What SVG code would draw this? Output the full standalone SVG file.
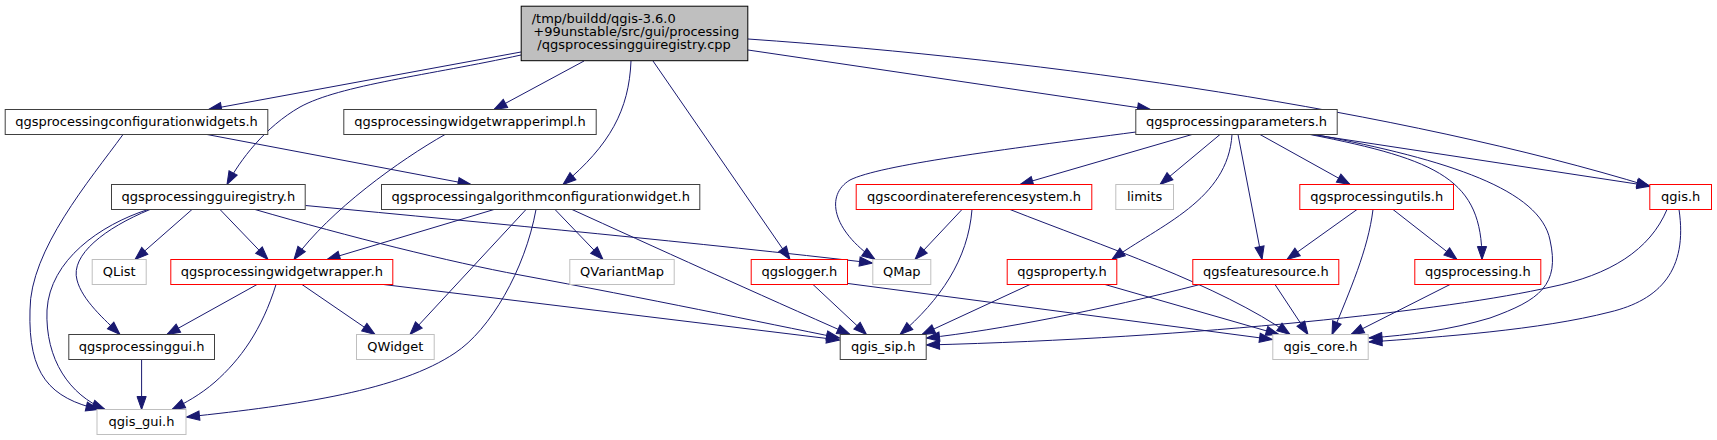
<svg xmlns="http://www.w3.org/2000/svg" width="1717" height="440" viewBox="0 0 1717 440">
<style>
text{font-family:"DejaVu Sans","Liberation Sans",sans-serif;font-size:13px;fill:#000;text-anchor:middle}
.nd rect{fill:#fff;stroke:#404040;stroke-width:1}
.rd rect{fill:#fff;stroke:#ff0000;stroke-width:1}
.gr rect{fill:#fff;stroke:#bfbfbf;stroke-width:1}
#edges path{fill:none;stroke:#191970;stroke-width:1;marker-end:url(#arr)}
</style>
<defs>
<marker id="arr" markerUnits="userSpaceOnUse" markerWidth="16" markerHeight="12" refX="13" refY="4.6" orient="auto" overflow="visible">
<path d="M0,0 L13,4.6 L0,9.2 Z" fill="#191970" stroke="#191970" stroke-width="1"/>
</marker>
</defs>
<rect x="0" y="0" width="1717" height="440" fill="#fff"/>
<g id="edges">
<path d="M521,52 L208.5,109.5"/>
<path d="M521,55 C430,75 340,85 300,107 C265,127 240,160 227,184.5"/>
<path d="M584,61 L494,109.5"/>
<path d="M631,61 C629,110 610,145 563,184.5"/>
<path d="M653,61 L790,259.5"/>
<path d="M748,50 L1150.5,109.5"/>
<path d="M748,39 C1050,60 1400,110 1650,186.5"/>
<path d="M207,134.5 L471,184.5"/>
<path d="M123,134.5 C90,180 30,250 30,310 C28,375 50,398 99,409.5"/>
<path d="M148,209.5 C100,225 50,260 47,310 C45,360 70,395 105,409.5"/>
<path d="M150,209.5 C105,228 70,255 77,280 C82,300 105,320 120,334.5"/>
<path d="M192,209.5 L135,259.5"/>
<path d="M220,209.5 L268,259.5"/>
<path d="M305.5,205.5 C500,224 700,243 872.5,263"/>
<path d="M255,209.5 C350,237 450,262 520,275 C650,299 760,322 839.5,338"/>
<path d="M494,209.5 L327,259.5"/>
<path d="M526,209.5 L410,334.5"/>
<path d="M536,209.5 C525,270 490,330 455,353 C400,390 300,405 186.5,417"/>
<path d="M555,209.5 L603,259.5"/>
<path d="M572,209.5 C650,245 760,295 850,334.5"/>
<path d="M257,284.5 L167,334.5"/>
<path d="M276,284.5 C262,330 240,360 215,382 C200,395 185,403 172,409.5"/>
<path d="M302,284.5 L375,334.5"/>
<path d="M383.5,284.5 L839.5,340"/>
<path d="M141.6,359.5 L141.6,409.5"/>
<path d="M445,134.5 C400,160 330,210 294,259.5"/>
<path d="M1136,132 C1000,150 880,165 850,180 C825,195 832,230 875,259.5"/>
<path d="M1192,134.5 L1020,184.5"/>
<path d="M1220,134.5 L1160,184.5"/>
<path d="M1232,134.5 C1228,200 1160,225 1112,259.5"/>
<path d="M1238,134.5 L1262,259.5"/>
<path d="M1260,134.5 L1350,184.5"/>
<path d="M1310,134.5 C1440,160 1482,180 1482,259.5"/>
<path d="M1315,134.5 C1450,160 1540,190 1550,240 C1560,285 1540,300 1490,318 C1450,330 1410,335 1369,338"/>
<path d="M1312,134.5 L1650,186"/>
<path d="M962,209.5 L915,259.5"/>
<path d="M972,209.5 C968,260 940,300 900,334.5"/>
<path d="M1010,209.5 C1100,245 1220,285 1290,334.5"/>
<path d="M1357,209.5 L1287,259.5"/>
<path d="M1373,209.5 C1368,250 1350,290 1332,334.5"/>
<path d="M1393,209.5 L1457,259.5"/>
<path d="M1667,209.5 C1650,250 1610,275 1551,287 C1450,310 1200,338 926.5,345"/>
<path d="M1679,209.5 C1688,270 1660,300 1610,312 C1540,330 1440,337 1369,342"/>
<path d="M813,284.5 L866.5,334.5"/>
<path d="M848,283.5 L1272.5,339.5"/>
<path d="M1030,284.5 L922,334.5"/>
<path d="M1105,284.5 L1279,334.5"/>
<path d="M1200,284.5 C1100,310 1000,330 926.5,338"/>
<path d="M1275,284.5 L1308,334.5"/>
<path d="M1450,284.5 L1351,334.5"/>
</g>
<g id="root">
<rect x="521.2" y="6.2" width="226.6" height="54.5" fill="#bfbfbf" stroke="#000" stroke-width="1"/>
<text x="531.7" y="22.7" style="text-anchor:start">/tmp/buildd/qgis-3.6.0</text>
<text x="533.3" y="36" style="text-anchor:start">+99unstable/src/gui/processing</text>
<text x="537.3" y="49.3" style="text-anchor:start">/qgsprocessingguiregistry.cpp</text>
</g>
<g id="n1" class="nd"><rect x="5.2" y="109.5" width="262.6" height="25"/><text x="136.5" y="125.5">qgsprocessingconfigurationwidgets.h</text></g>
<g id="n2" class="nd"><rect x="343.8" y="109.5" width="252.4" height="25"/><text x="470" y="125.5">qgsprocessingwidgetwrapperimpl.h</text></g>
<g id="n3" class="nd"><rect x="1135.8" y="109.5" width="201.4" height="25"/><text x="1236.5" y="125.5">qgsprocessingparameters.h</text></g>
<g id="n4" class="nd"><rect x="111.5" y="184.5" width="193.7" height="25"/><text x="208.35" y="200.5">qgsprocessingguiregistry.h</text></g>
<g id="n5" class="nd"><rect x="381.5" y="184.5" width="318.3" height="25"/><text x="540.65" y="200.5">qgsprocessingalgorithmconfigurationwidget.h</text></g>
<g id="n6" class="rd"><rect x="856.2" y="184.5" width="235.6" height="25"/><text x="974" y="200.5">qgscoordinatereferencesystem.h</text></g>
<g id="n7" class="gr"><rect x="1115.8" y="184.5" width="57.7" height="25"/><text x="1144.65" y="200.5">limits</text></g>
<g id="n8" class="rd"><rect x="1299.8" y="184.5" width="153.7" height="25"/><text x="1376.65" y="200.5">qgsprocessingutils.h</text></g>
<g id="n9" class="rd"><rect x="1649.8" y="184.5" width="61.7" height="25"/><text x="1680.65" y="200.5">qgis.h</text></g>
<g id="n10" class="gr"><rect x="92.2" y="259.5" width="54" height="25"/><text x="119.2" y="275.5">QList</text></g>
<g id="n11" class="rd"><rect x="170.8" y="259.5" width="222" height="25"/><text x="281.8" y="275.5">qgsprocessingwidgetwrapper.h</text></g>
<g id="n12" class="gr"><rect x="569.8" y="259.5" width="104.4" height="25"/><text x="622" y="275.5">QVariantMap</text></g>
<g id="n13" class="rd"><rect x="751.2" y="259.5" width="96.3" height="25"/><text x="799.35" y="275.5">qgslogger.h</text></g>
<g id="n14" class="gr"><rect x="872.8" y="259.5" width="58" height="25"/><text x="901.8" y="275.5">QMap</text></g>
<g id="n15" class="rd"><rect x="1007.2" y="259.5" width="109.6" height="25"/><text x="1062" y="275.5">qgsproperty.h</text></g>
<g id="n16" class="rd"><rect x="1192.8" y="259.5" width="146" height="25"/><text x="1265.8" y="275.5">qgsfeaturesource.h</text></g>
<g id="n17" class="rd"><rect x="1414.8" y="259.5" width="126" height="25"/><text x="1477.8" y="275.5">qgsprocessing.h</text></g>
<g id="n18" class="nd"><rect x="68.8" y="334.5" width="145.7" height="25"/><text x="141.65" y="350.5">qgsprocessinggui.h</text></g>
<g id="n19" class="gr"><rect x="356.5" y="334.5" width="77.7" height="25"/><text x="395.35" y="350.5">QWidget</text></g>
<g id="n20" class="nd"><rect x="840.2" y="334.5" width="86" height="25"/><text x="883.2" y="350.5">qgis_sip.h</text></g>
<g id="n21" class="gr"><rect x="1272.8" y="334.5" width="95.4" height="25"/><text x="1320.5" y="350.5">qgis_core.h</text></g>
<g id="n22" class="gr"><rect x="97" y="409.5" width="89" height="25"/><text x="141.5" y="425.5">qgis_gui.h</text></g>
</svg>
